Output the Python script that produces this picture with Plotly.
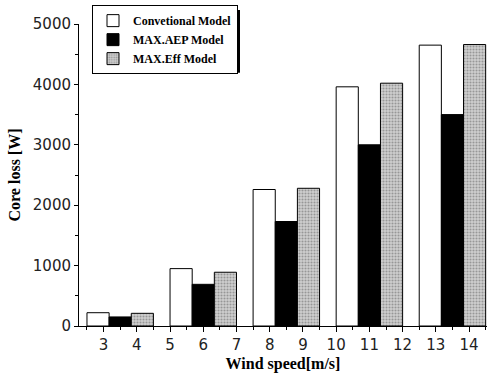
import plotly.graph_objects as go

# Group centres on the wind-speed axis and the axis tick labels
group_x = [3.5, 6.0, 8.5, 11.0, 13.5]
tick_vals = [3, 4, 5, 6, 7, 8, 9, 10, 11, 12, 13, 14]

# Core loss [W] for each model
conventional = [220, 950, 2260, 3960, 4650]
max_aep = [150, 690, 1730, 3000, 3500]
max_eff = [210, 890, 2280, 4020, 4660]

serif_bold = dict(family="Liberation Serif", size=12, color="black", weight="bold")
title_font = dict(family="Liberation Serif", size=16, color="black", weight="bold")
tick_font = dict(family="DejaVu Sans", size=15, color="#222222")

fig = go.Figure()
fig.add_bar(x=group_x, y=conventional, name="Convetional Model",
            marker=dict(color="white", line=dict(color="black", width=1)))
fig.add_bar(x=group_x, y=max_aep, name="MAX.AEP Model",
            marker=dict(color="black", line=dict(color="black", width=1)))
fig.add_bar(x=group_x, y=max_eff, name="MAX.Eff Model",
            marker=dict(color="#d0d0d0", line=dict(color="black", width=1),
                        pattern=dict(shape=".", fgcolor="#5e5e5e", size=3, solidity=0.4)))

W, H = 492, 382
ml, mr, mt, mb = 79, 5, 22, 56
pw, ph = W - ml - mr, H - mt - mb

def px_x(p):
    return (p - ml) / pw

def px_y(p):
    return (H - mb - p) / ph

# drop shadow behind the legend box
fig.add_shape(type="rect", xref="paper", yref="paper",
              x0=px_x(96), x1=px_x(240), y0=px_y(71), y1=px_y(8),
              fillcolor="black", line=dict(width=0), layer="above")

fig.update_layout(
    width=W, height=H,
    margin=dict(l=ml, r=mr, t=mt, b=mb),
    paper_bgcolor="white", plot_bgcolor="white",
    barmode="group", bargap=0.2, bargroupgap=0,
    showlegend=True,
    legend=dict(x=px_x(92), y=px_y(3), xanchor="left", yanchor="top",
                bgcolor="white", bordercolor="black", borderwidth=1,
                font=serif_bold, tracegroupgap=0, itemwidth=30,
                traceorder="normal"),
    xaxis=dict(range=[2.26, 14.54], tickvals=tick_vals,
               ticks="outside", ticklen=5, tickcolor="black",
               showline=True, linecolor="black", linewidth=1,
               showgrid=False, zeroline=False,
               minor=dict(dtick=0.5, tick0=0, ticks="outside", ticklen=3, tickcolor="black"),
               tickfont=tick_font,
               title=dict(text="Wind speed[m/s]", standoff=4, font=title_font)),
    yaxis=dict(range=[0, 5000], dtick=1000,
               ticks="outside", ticklen=4, tickcolor="black",
               showline=True, linecolor="black", linewidth=1,
               showgrid=False, zeroline=False,
               minor=dict(dtick=500, ticks="outside", ticklen=3, tickcolor="black"),
               tickfont=tick_font,
               title=dict(text="Core loss [W]", standoff=8, font=title_font)),
)

fig.write_html("out.html")
